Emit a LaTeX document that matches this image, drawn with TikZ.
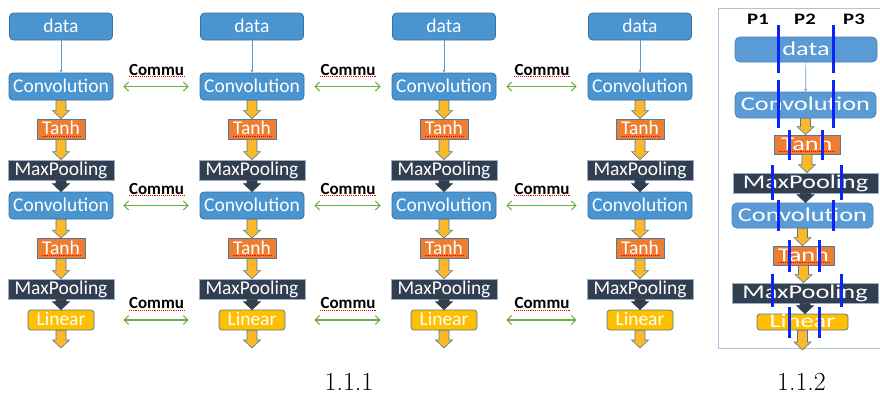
\documentclass[tikz,border=0pt]{standalone}
\usepackage{fontspec}
\usepackage{graphicx}
\usetikzlibrary{arrows.meta, calc}
\newfontfamily\boxfont{Carlito}
\definecolor{convblue}{RGB}{74,148,208}
\definecolor{convedge}{RGB}{58,112,162}
\definecolor{lightblue}{RGB}{91,155,213}
\definecolor{tanhorange}{RGB}{237,125,49}
\definecolor{pooldark}{RGB}{50,63,80}
\definecolor{lineargold}{RGB}{255,192,0}
\definecolor{arrowgold}{RGB}{250,185,40}
\definecolor{arrowedge}{RGB}{84,120,156}
\definecolor{commugreen}{RGB}{112,173,71}
\definecolor{cutblue}{RGB}{10,36,250}
\definecolor{framegray}{RGB}{170,196,226}
\tikzset{
  spellline/.style={red, line width=0.9pt, densely dotted},
  spell/.style 2 args={append after command={([shift={(#1,#2)}]\tikzlastnode.south west) edge[spellline] ([shift={(-#1,#2)}]\tikzlastnode.south east)}},
  layer/.style={minimum height=27pt, inner sep=0pt, text=white, font=\boxfont\fontsize{19.5}{20}\selectfont, text height=15pt, text depth=4pt, line width=0.8pt},
  convbox/.style={layer, rounded corners=4pt, draw=convedge, fill=convblue},
  rconvbox/.style={layer, rounded corners=5pt, draw=lightblue!85!black, fill=lightblue},
  tanhbox/.style={layer, minimum height=20pt, draw=arrowedge, fill=tanhorange, spell={5pt}{3pt}},
  poolbox/.style={layer, minimum height=20pt, draw=arrowedge!60, fill=pooldark},
  linbox/.style={layer, minimum height=20pt, rounded corners=3pt, draw=arrowedge, fill=lineargold},
  feed/.style={-{Stealth[length=3pt,width=3pt]}, lightblue, line width=0.7pt},
  yarrow/.style={fill=arrowgold, draw=arrowedge, line width=0.6pt},
  darrow/.style={fill=pooldark, draw=pooldark, line width=0.6pt},
  commu/.style={{Straight Barb[length=4.5pt,width=9pt]}-{Straight Barb[length=4.5pt,width=9pt]}, commugreen, line width=1.1pt, shorten <=10pt, shorten >=11pt},
  commulabel/.style={yshift=17pt, inner sep=0pt, text=black, font=\boxfont\bfseries\fontsize{17}{18}\selectfont, spell={0pt}{-1.5pt}},
  cut/.style={cutblue, line width=3pt},
  plabel/.style={inner sep=0pt, font=\boxfont\bfseries\fontsize{16}{18}\selectfont},
  caption/.style={inner sep=0pt, font=\fontsize{26}{30}\selectfont}
}
% block arrow pointing down, from anchor #2 to anchor #3
\newcommand{\flowdown}[3][yarrow]{%
  \draw[#1] let \p1=(#2), \p2=(#3) in
    (\x1-5,\y1) -- (\x1+5,\y1) -- (\x1+5,\y2+8) -- (\x1+8.5,\y2+8) -- (\x1,\y2)
    -- (\x1-8.5,\y2+8) -- (\x1-5,\y2+8) -- cycle;}
\newcommand{\wide}[2][1.35]{\scalebox{#1}[1]{#2}}
\begin{document}
\begin{tikzpicture}[x=1pt, y=-1pt]
  \useasboundingbox (0,0) rectangle (880,394);

  % four data-parallel copies
  \foreach \cx [count=\i] in {61,252,444,640}{
    \node[convbox, minimum width=103pt] (data\i) at (\cx,26.5) {data};
    \node[convbox, minimum width=104pt] (convA\i) at (\cx,86.5) {Convolution};
    \node[tanhbox, minimum width=48pt] (tanhA\i) at (\cx,129) {Tanh};
    \node[poolbox, minimum width=106pt] (poolA\i) at (\cx,170) {MaxPooling};
    \node[convbox, minimum width=104pt] (convB\i) at (\cx,205.5) {Convolution};
    \node[tanhbox, minimum width=48pt] (tanhB\i) at (\cx,248.5) {Tanh};
    \node[poolbox, minimum width=106pt] (poolB\i) at (\cx,289) {MaxPooling};
    \node[linbox, minimum width=66pt] (lin\i) at (\cx,320) {Linear};
    \coordinate (out\i) at (\cx,348);
    \draw[feed] (data\i) -- (convA\i);
    \flowdown{convA\i.south}{tanhA\i.north}
    \flowdown{tanhA\i.south}{poolA\i.north}
    \flowdown[darrow]{poolA\i.south}{convB\i.north}
    \flowdown{convB\i.south}{tanhB\i.north}
    \flowdown{tanhB\i.south}{poolB\i.north}
    \flowdown[darrow]{poolB\i.south}{lin\i.north}
    \flowdown{lin\i.south}{out\i}
  }

  % communication between neighbours
  \foreach \i/\j in {1/2,2/3,3/4}{
    \draw[commu] (convA\i.east) -- (convA\j.west);
    \node[commulabel] (comA\i) at ($(convA\i.east)!0.5!(convA\j.west)$) {Commu};
    \draw[commu] (convB\i.east) -- (convB\j.west);
    \node[commulabel] (comB\i) at ($(convB\i.east)!0.5!(convB\j.west)$) {Commu};
    \draw[commu] (convB\i.east |- lin\i) -- (convB\j.west |- lin\j);
    \node[commulabel] (comC\i) at ($(convB\i.east |- lin\i)!0.5!(convB\j.west |- lin\j)$) {Commu};
  }

  % model-parallel panel
  \draw[framegray, line width=1pt] (882,8) -- (718,8) -- (718,348) -- (882,348);
  \node[plabel] (p1) at (758,19) {\wide[1.3]{P1}};
  \node[plabel] (p2) at (805,19) {\wide[1.3]{P2}};
  \node[plabel] (p3) at (854,19) {\wide[1.3]{P3}};

  \node[rconvbox, minimum width=142pt, minimum height=25pt] (rdata) at (806,49.5) {\wide{data}};
  \node[rconvbox, minimum width=141pt, minimum height=26pt] (rconvA) at (805.5,105) {\wide{Convolution}};
  \node[tanhbox, minimum width=66pt, minimum height=19pt] (rtanhA) at (807,144.5) {\wide{Tanh}};
  \node[poolbox, minimum width=145pt] (rpoolA) at (805.5,183) {\wide{MaxPooling}};
  \node[rconvbox, minimum width=141pt, minimum height=25pt] (rconvB) at (802.5,215.5) {\wide{Convolution}};
  \node[tanhbox, minimum width=61pt, minimum height=19pt] (rtanhB) at (803.5,255.5) {\wide{Tanh}};
  \node[poolbox, minimum width=146pt] (rpoolB) at (805,293) {\wide{MaxPooling}};
  \node[linbox, minimum width=91pt, minimum height=16pt, text height=12pt, text depth=2pt] (rlin) at (802.5,322) {\wide{Linear}};
  \coordinate (rout) at (802.5,350);
  \draw[feed] (rdata) -- (rconvA);
  \flowdown{rconvA.south}{rtanhA.north}
  \flowdown{rtanhA.south}{rpoolA.north}
  \flowdown[darrow]{rpoolA.south}{rconvB.north}
  \flowdown{rconvB.south}{rtanhB.north}
  \flowdown{rtanhB.south}{rpoolB.north}
  \flowdown[darrow]{rpoolB.south}{rlin.north}
  \flowdown{rlin.south}{rout}

  % partition cuts
  \foreach \xa/\xb/\ya/\yb in {778/833/25/73, 778/833/80/128, 789/822/130/160,
      772/841/165/200, 778/833/200/231, 789/819/240/272, 772/841/274/307, 789/819/307/338}{
    \draw[cut] (\xa,\ya) -- (\xa,\yb);
    \draw[cut] (\xb,\ya) -- (\xb,\yb);
  }

  \node[caption] (cap1) at (349,382) {1.1.1};
  \node[caption] (cap2) at (801.5,382) {1.1.2};
\end{tikzpicture}
\end{document}
